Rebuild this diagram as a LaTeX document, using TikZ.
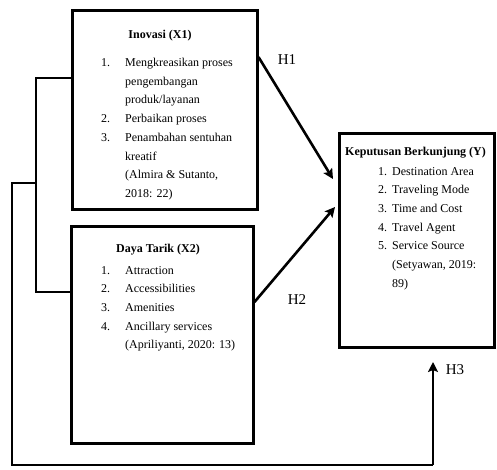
\documentclass[tikz,border=0pt]{standalone}
\usepackage{fontspec}
\setmainfont{Liberation Serif}
\usetikzlibrary{arrows.meta,calc}
\begin{document}
\begin{tikzpicture}[x=1pt,y=-1pt,
  box/.style={draw,line width=3pt,inner sep=0pt},
  conn/.style={line width=2.8pt},
  arr/.style={line width=2.6pt,-{Stealth[length=10pt,width=10pt,inset=2pt]}},
  ttl/.style={font=\fontsize{12}{14}\selectfont\bfseries,inner sep=0pt},
  lst/.style={font=\fontsize{12}{18.7}\selectfont,align=left,inner sep=0pt,anchor=north west},
  hlab/.style={font=\fontsize{15}{17}\selectfont,inner sep=0pt}]
\useasboundingbox (0,0) rectangle (497,469);
\node[box,minimum width=185pt,minimum height=199pt] (x1) at (164.5,109.5) {};
\node[box,minimum width=182pt,minimum height=217pt] (x2) at (162,334.5) {};
\node[box,minimum width=155pt,minimum height=214pt] (y) at (417,240) {};
% texts
\node[ttl] (x1t) at (160,36) {Inovasi (X1)};
\node[lst] (x1l) at (101,58) {\makebox[24pt][l]{1.}Mengkreasikan proses\\
\hspace*{24pt}pengembangan\\
\hspace*{24pt}produk/layanan\\
\makebox[24pt][l]{2.}Perbaikan proses\\
\makebox[24pt][l]{3.}Penambahan sentuhan\\
\hspace*{24pt}kreatif\\
\hspace*{24pt}(Almira \& Sutanto,\\
\hspace*{24pt}2018: 22)};
\node[ttl] (x2t) at (158,250) {Daya Tarik (X2)};
\node[lst] (x2l) at (101,266) {\makebox[24pt][l]{1.}Attraction\\
\makebox[24pt][l]{2.}Accessibilities\\
\makebox[24pt][l]{3.}Amenities\\
\makebox[24pt][l]{4.}Ancillary services\\
\hspace*{24pt}(Apriliyanti, 2020: 13)};
\node[ttl,anchor=west] (yt) at (345,153) {Keputusan Berkunjung (Y)};
\node[lst] (yl) at (378,167) {\makebox[14pt][l]{1.}Destination Area\\
\makebox[14pt][l]{2.}Traveling Mode\\
\makebox[14pt][l]{3.}Time and Cost\\
\makebox[14pt][l]{4.}Travel Agent\\
\makebox[14pt][l]{5.}Service Source\\
\hspace*{14pt}(Setyawan, 2019:\\
\hspace*{14pt}89)};
% labels
\node[hlab] (h1) at (287,60) {H1};
\node[hlab] (h2) at (297,300) {H2};
\node[hlab] (h3) at (455,370) {H3};
% coordinates
\coordinate (b1) at (36,78);
\coordinate (b2) at (36,292);
\coordinate (o1) at (36,183);
\coordinate (o2) at (12,183);
\coordinate (o3) at (12,465);
\coordinate (o4) at (433,465);
\coordinate (o5) at (433,362);
\coordinate (h1s) at (257,57);
\coordinate (h1e) at (333,179);
\coordinate (h2s) at (253,302);
\coordinate (h2e) at (335,207);
% connectors
\draw[conn] (x1.west |- b1) -- (b1) -- (b2) -- (x2.west |- b2);
\draw[conn,line join=miter] (o1) -- (o2) -- (o3) -- (o4);
\draw[arr] (o4) -- (o5);
\draw[arr] (x1.east |- h1s) -- (h1e);
\draw[arr] (x2.east |- h2s) -- (h2e);
\end{tikzpicture}
\end{document}
